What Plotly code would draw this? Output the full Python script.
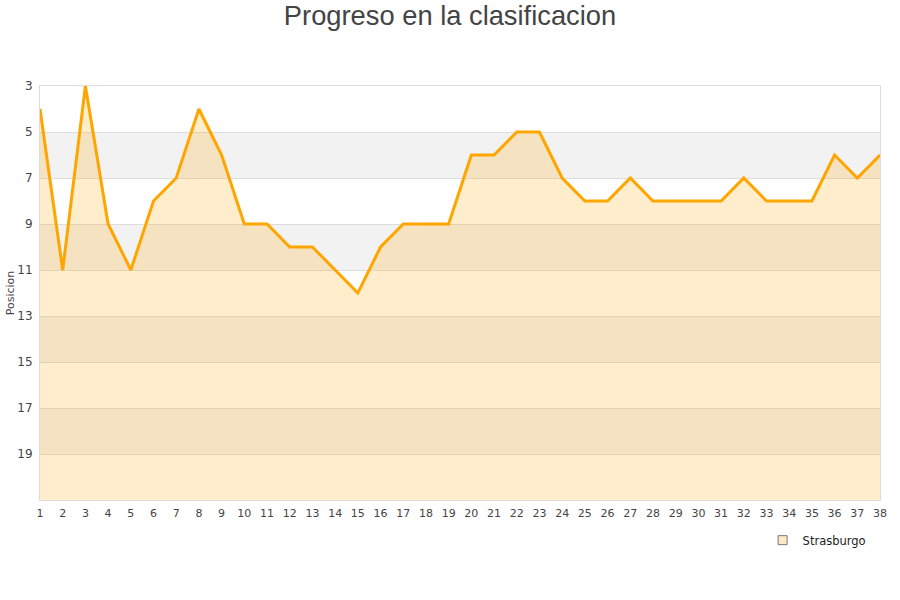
import plotly.graph_objects as go

jornadas = list(range(1, 39))
posiciones = [4, 11, 3, 9, 11, 8, 7, 4, 6, 9, 9, 10, 10, 11, 12, 10, 9, 9, 9, 6,
              6, 5, 5, 7, 8, 8, 7, 8, 8, 8, 8, 7, 8, 8, 8, 6, 7, 6]
equipo = "Strasburgo"
y_ticks = [3, 5, 7, 9, 11, 13, 15, 17, 19]
fondo = [21] * len(jornadas)

fig = go.Figure()
fig.add_trace(go.Scatter(x=jornadas, y=fondo, mode="lines", line=dict(width=0),
                         hoverinfo="skip", showlegend=False))
fig.add_trace(go.Scatter(x=jornadas, y=posiciones, mode="lines", fill="tonexty",
                         fillcolor="rgba(255,165,0,0.2)",
                         line=dict(color="#ffa500", width=3),
                         name=equipo, showlegend=False))
fig.add_trace(go.Scatter(x=[None], y=[None], mode="markers", name=equipo,
                         marker=dict(symbol="square", size=9, color="#fde9c8",
                                     line=dict(color="#777", width=1))))

shapes = []
for lo in [5, 9, 13, 17]:
    shapes.append(dict(type="rect", xref="paper", x0=0, x1=1, yref="y", y0=lo, y1=lo + 2,
                       fillcolor="#f2f2f2", line=dict(width=0), layer="below"))

fig.update_layout(
    width=900, height=600,
    paper_bgcolor="white", plot_bgcolor="white",
    margin=dict(l=40, r=20, t=86, b=100, autoexpand=False),
    title=dict(text="Progreso en la clasificacion", x=0.5, xanchor="center",
               y=1 - 15 / 600, yanchor="middle",
               font=dict(family="Liberation Sans, Arial", size=27.3, color="#444")),
    font=dict(family="DejaVu Sans", size=11, color="#444"),
    shapes=shapes,
    xaxis=dict(range=[1, 38], tickmode="array", tickvals=jornadas, showgrid=False,
               zeroline=False, showline=True, linecolor="#ddd", mirror=True,
               ticks="", automargin=False, ticklabelstandoff=3,
               tickfont=dict(size=11, color="#444")),
    yaxis=dict(range=[21, 3], tickmode="array", tickvals=y_ticks, showgrid=True,
               gridcolor="#dddddd", zeroline=False, showline=True, linecolor="#ddd",
               mirror=True, ticks="", automargin=False, ticklabelstandoff=4,
               tickfont=dict(size=12, color="#444"),
               title=dict(text="Posicion", font=dict(size=11, color="#444"), standoff=0)),
    legend=dict(x=0.99, xanchor="right", y=-0.062, yanchor="top",
                font=dict(size=11.5, color="#222"), bgcolor="rgba(0,0,0,0)"),
    showlegend=True,
)

fig.write_html("out.html", config={"displayModeBar": False},
               post_script="document.body.style.margin='0';")
